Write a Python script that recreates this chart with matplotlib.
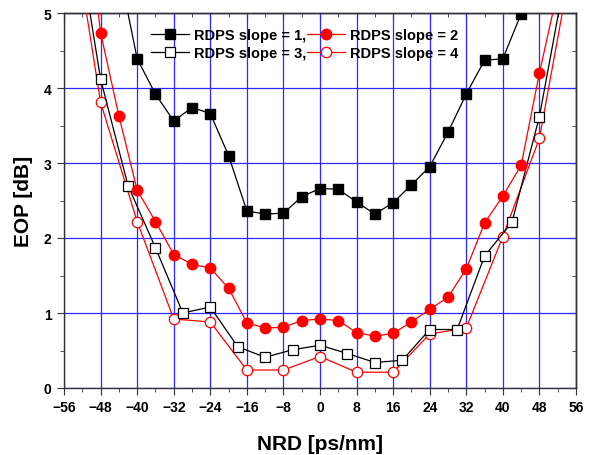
import matplotlib
matplotlib.use("Agg")
import matplotlib.pyplot as plt
from matplotlib.ticker import MultipleLocator, NullFormatter

# NRD [ps/nm] vs EOP [dB]; end points lie above the visible range
slope1_x = [-44, -40, -36, -32, -28, -24, -20, -16, -12, -8, -4, 0, 4, 8, 12, 16, 20, 24, 28, 32, 36, 40, 44, 48]
slope1_y = [5.6, 4.39, 3.92, 3.56, 3.74, 3.66, 3.10, 2.36, 2.32, 2.33, 2.55, 2.66, 2.65, 2.48, 2.32, 2.47, 2.71, 2.95, 3.41, 3.92, 4.37, 4.39, 4.99, 5.6]

slope2_x = [-52, -48, -44, -40, -36, -32, -28, -24, -20, -16, -12, -8, -4, 0, 4, 8, 12, 16, 20, 24, 28, 32, 36, 40, 44, 48, 52]
slope2_y = [6.8, 4.74, 3.63, 2.64, 2.22, 1.78, 1.65, 1.60, 1.33, 0.87, 0.80, 0.81, 0.90, 0.92, 0.90, 0.74, 0.69, 0.73, 0.88, 1.05, 1.21, 1.59, 2.20, 2.56, 2.97, 4.20, 5.3]

slope3_x = [-54, -48, -42, -36, -30, -24, -18, -12, -6, 0, 6, 12, 18, 24, 30, 36, 42, 48, 54]
slope3_y = [6.4, 4.12, 2.70, 1.87, 1.00, 1.08, 0.55, 0.41, 0.51, 0.57, 0.46, 0.34, 0.37, 0.78, 0.78, 1.76, 2.21, 3.62, 5.6]

slope4_x = [-56, -48, -40, -32, -24, -16, -8, 0, 8, 16, 24, 32, 40, 48, 56]
slope4_y = [6.9, 3.81, 2.22, 0.92, 0.88, 0.24, 0.24, 0.42, 0.21, 0.21, 0.72, 0.80, 2.02, 3.33, 6.0]

plt.rcParams["font.family"] = ["Liberation Sans", "DejaVu Sans"]
plt.rcParams["font.weight"] = "bold"

fig = plt.figure(figsize=(5.91, 4.56), dpi=100)
ax = fig.add_axes([64 / 591, 1 - 389 / 456, 512 / 591, 375 / 456])

ax.plot(slope1_x, slope1_y, color="black", lw=0.9, marker="s", ms=7,
        mfc="black", mec="black", label="RDPS slope = 1,", zorder=5)
ax.plot(slope3_x, slope3_y, color="black", lw=0.9, marker="s", ms=7,
        mfc="white", mec="black", mew=0.9, label="RDPS slope = 3,", zorder=4)
ax.plot(slope2_x, slope2_y, color="red", lw=0.9, marker="o", ms=7.5,
        mfc="red", mec="red", label="RDPS slope = 2", zorder=4)
ax.plot(slope4_x, slope4_y, color="red", lw=0.9, marker="o", ms=7.5,
        mfc="white", mec="red", mew=0.9, label="RDPS slope = 4", zorder=3)

ax.set_xlim(-56, 56)
ax.set_ylim(0, 5)
ax.xaxis.set_major_locator(MultipleLocator(8))
ax.xaxis.set_minor_locator(MultipleLocator(4))
ax.yaxis.set_major_locator(MultipleLocator(1))
ax.yaxis.set_minor_locator(MultipleLocator(0.5))
ax.grid(True, which="major", color="#2a2aff", lw=0.9, zorder=0)
ax.set_axisbelow(True)

ax.tick_params(which="both", direction="out", labelsize=10, color="#333333", pad=4)
ax.tick_params(which="major", length=5)
ax.tick_params(which="minor", length=3)

# inward ticks on top and right, no labels
top = ax.secondary_xaxis("top")
top.xaxis.set_major_locator(MultipleLocator(8))
top.xaxis.set_minor_locator(MultipleLocator(4))
top.xaxis.set_major_formatter(NullFormatter())
top.tick_params(which="both", direction="in", color="#333333")
top.tick_params(which="major", length=5)
top.tick_params(which="minor", length=3)
right = ax.secondary_yaxis("right")
right.yaxis.set_major_locator(MultipleLocator(1))
right.yaxis.set_minor_locator(MultipleLocator(0.5))
right.yaxis.set_major_formatter(NullFormatter())
right.tick_params(which="both", direction="in", color="#333333")
right.tick_params(which="major", length=5)
right.tick_params(which="minor", length=3)

for sp in list(ax.spines.values()) + [top.spines["top"], right.spines["right"]]:
    sp.set_color("#333333")
    sp.set_linewidth(1)

for lbl in ax.get_xticklabels() + ax.get_yticklabels():
    lbl.set_fontweight("bold")

ax.set_xlabel("NRD [ps/nm]", fontsize=15, fontweight="bold", labelpad=14)
ax.set_ylabel("EOP [dB]", fontsize=15, fontweight="bold", labelpad=8)

ax.legend(ncol=2, frameon=False, loc="upper left", bbox_to_anchor=(0.145, 0.995),
          handlelength=2.6, columnspacing=0.1, handletextpad=0.3,
          labelspacing=0.3, prop={"size": 10.5, "weight": "bold"})

fig.savefig("out.png", dpi=100)
